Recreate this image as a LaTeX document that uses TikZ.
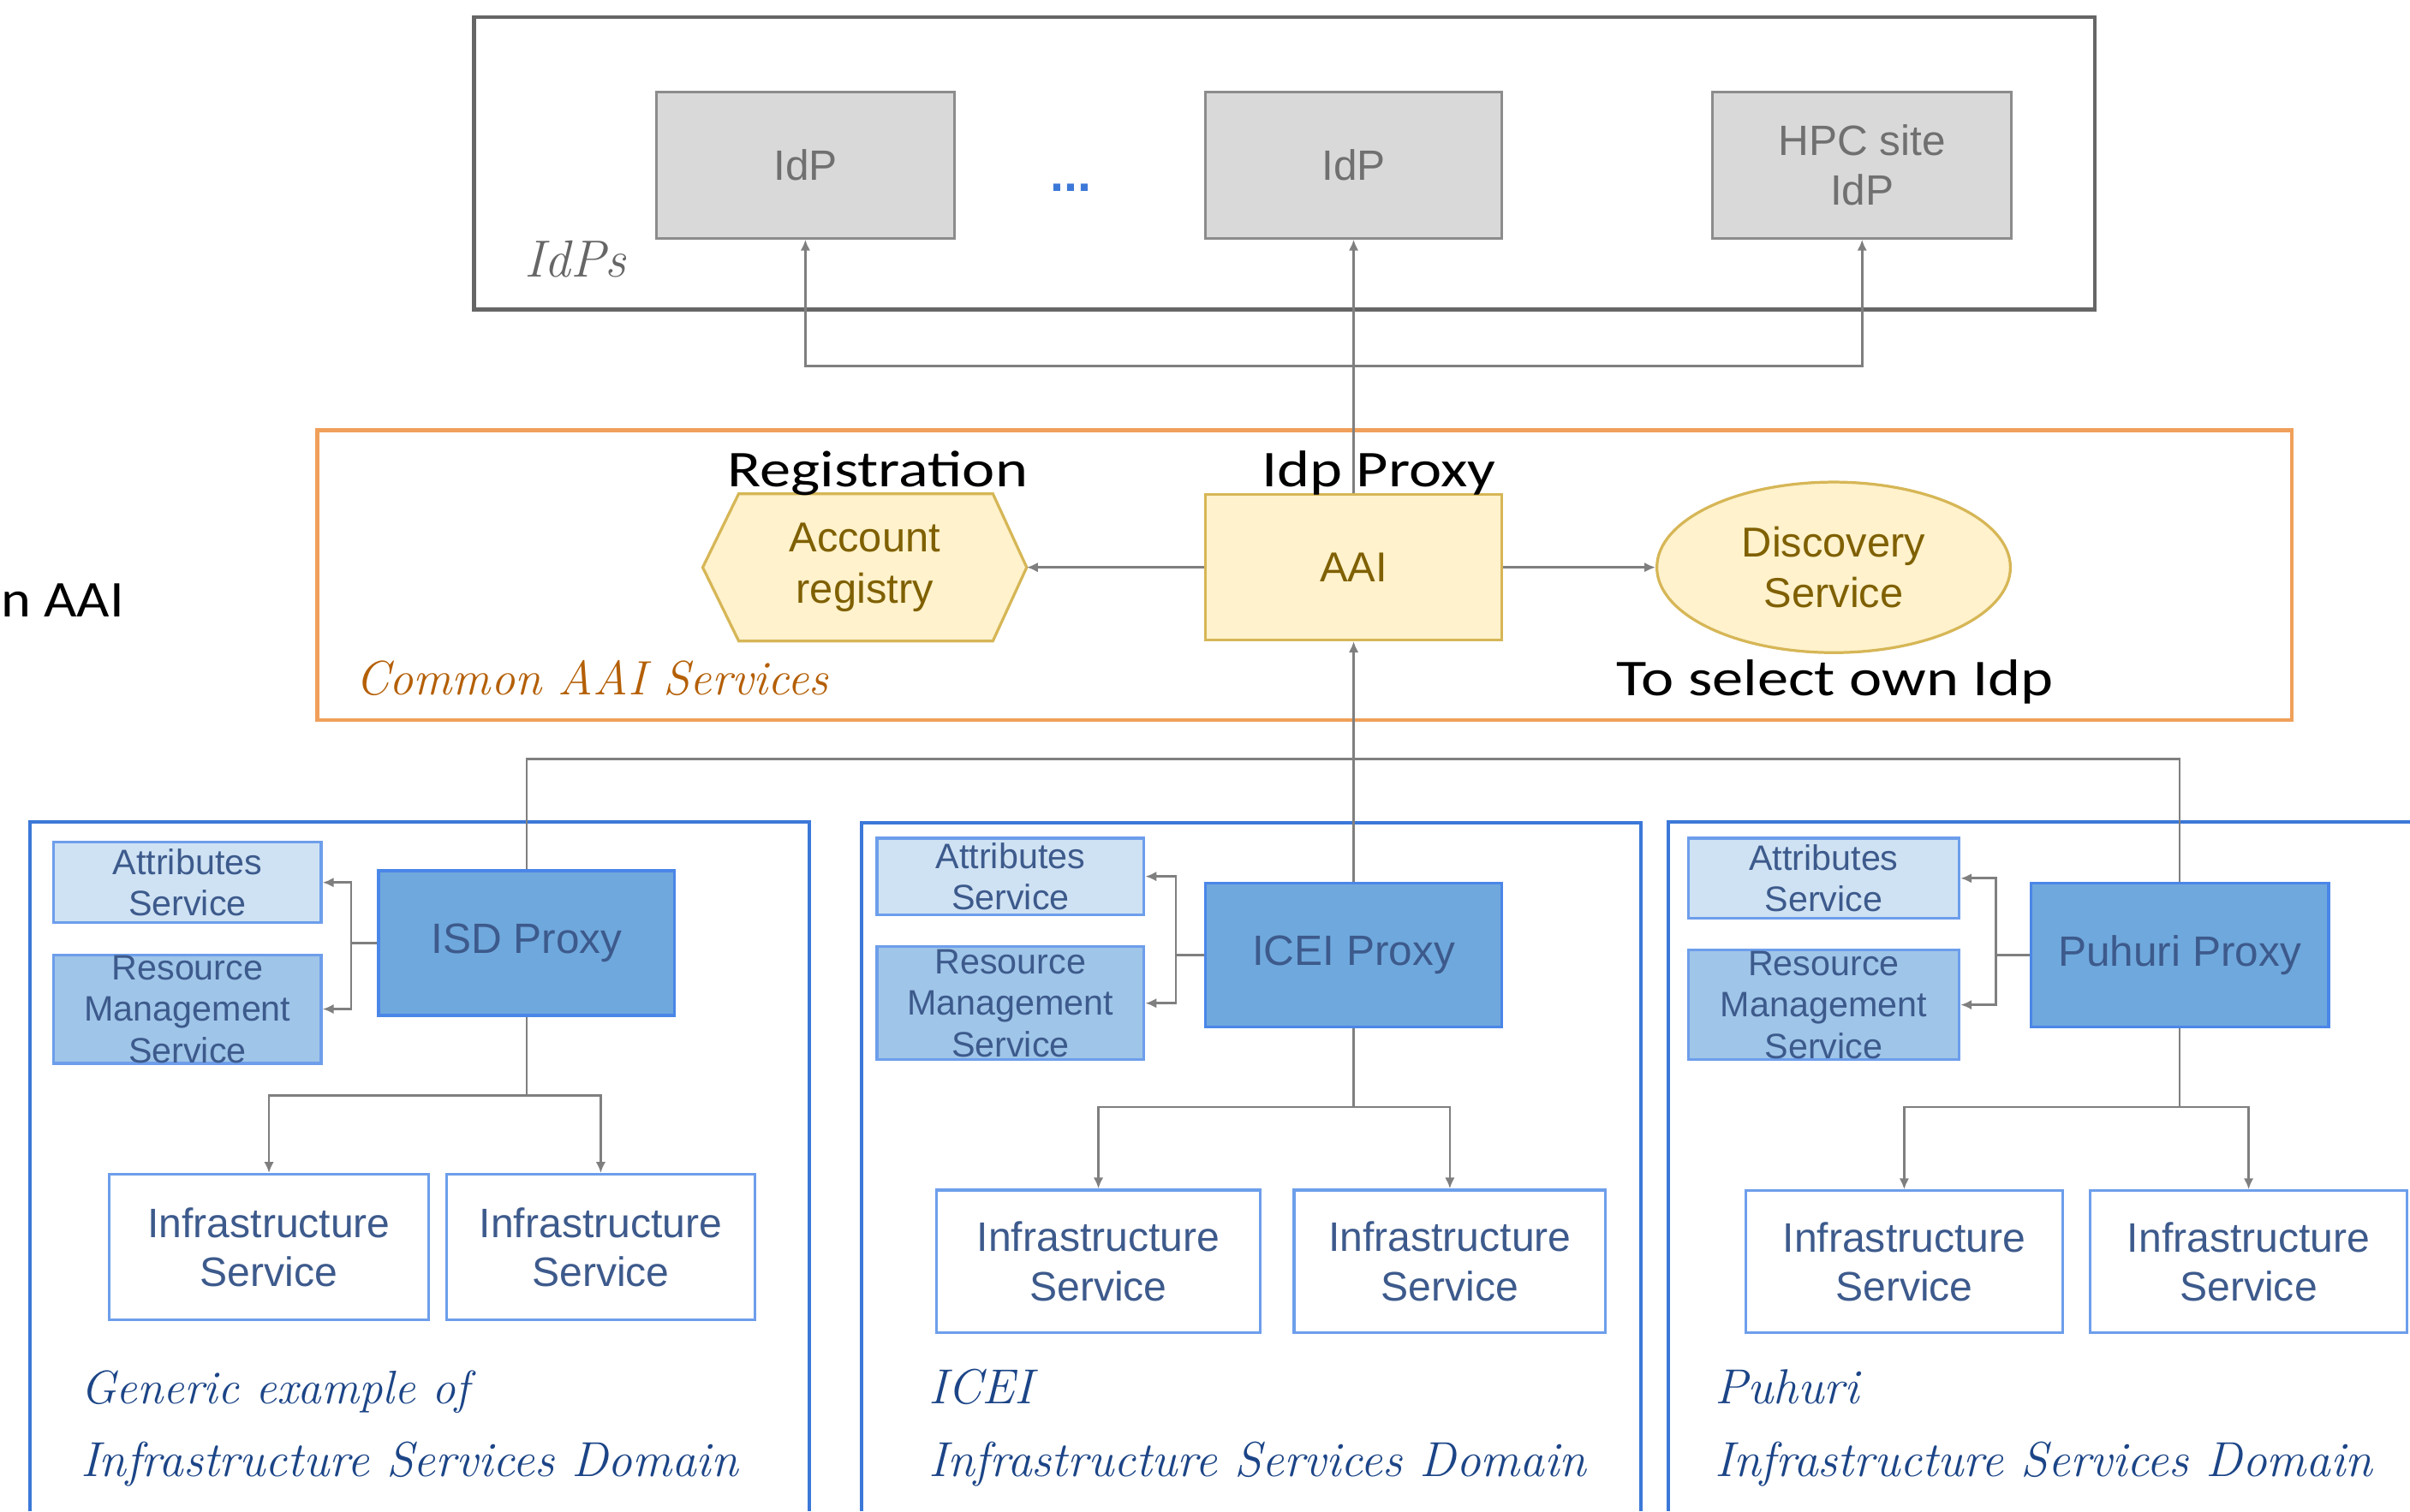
\documentclass[tikz,border=0pt]{standalone}
\usepackage{fontspec}
\setsansfont{Liberation Sans}
\newfontfamily\calib{Carlito}
\usetikzlibrary{shapes.geometric,arrows.meta}
\definecolor{cframeg}{HTML}{666666}
\definecolor{cidpfill}{HTML}{D9D9D9}
\definecolor{cidpdraw}{HTML}{8C8C8C}
\definecolor{cidptext}{HTML}{707070}
\definecolor{corng}{HTML}{F0A05A}
\definecolor{corngtext}{HTML}{B45F06}
\definecolor{cyfill}{HTML}{FFF2CC}
\definecolor{cydraw}{HTML}{D6B656}
\definecolor{cytext}{HTML}{7F6000}
\definecolor{cdframe}{HTML}{3C78D8}
\definecolor{cattfill}{HTML}{CFE2F3}
\definecolor{crmsfill}{HTML}{9FC5E8}
\definecolor{cpxfill}{HTML}{6FA8DC}
\definecolor{cbdraw}{HTML}{6D9EEB}
\definecolor{cpxdraw}{HTML}{4A86E8}
\definecolor{cbtext}{HTML}{3D5A8C}
\definecolor{cdlabel}{HTML}{1C4587}
\definecolor{clineg}{HTML}{7F7F7F}
\definecolor{cdots}{HTML}{3C78D8}
\begin{document}
\begin{tikzpicture}[x=0.5pt,y=-0.5pt,
  conn/.style={draw=clineg,line width=0.75pt},
  arr/.style={conn,-{Latex[length=3.6pt,width=3.2pt]}},
  arrboth/.style={conn,{Latex[length=3.6pt,width=3.2pt]}-{Latex[length=3.6pt,width=3.2pt]}},
  idpbox/.style={draw=cidpdraw,fill=cidpfill,line width=0.9pt,text=cidptext,inner sep=0pt,align=center,
    font=\sffamily\fontsize{13.8pt}{16pt}\selectfont},
  ybox/.style={draw=cydraw,fill=cyfill,line width=0.9pt,text=cytext,inner sep=0pt,align=center,
    font=\sffamily\fontsize{13.6pt}{16.5pt}\selectfont},
  ytxt/.style={text=cytext,inner sep=0pt,align=center,font=\sffamily\fontsize{13.6pt}{16.5pt}\selectfont},
  attbox/.style={draw=cbdraw,fill=cattfill,line width=0.9pt,text=cbtext,inner sep=0pt,align=center,
    font=\sffamily\fontsize{11.5pt}{13.5pt}\selectfont},
  rmsbox/.style={draw=cbdraw,fill=crmsfill,line width=0.9pt,inner sep=0pt},
  rmstxt/.style={text=cbtext,inner sep=0pt,align=center,font=\sffamily\fontsize{11.5pt}{13.5pt}\selectfont},
  pxbox/.style={draw=cpxdraw,fill=cpxfill,line width=0.9pt,text=cbtext,inner sep=0pt,align=center,
    font=\sffamily\fontsize{13.8pt}{16pt}\selectfont},
  infbox/.style={draw=cbdraw,fill=white,line width=0.9pt,text=cbtext,inner sep=0pt,align=center,
    font=\sffamily\fontsize{13.4pt}{16pt}\selectfont},
  callab/.style={inner sep=0pt,text=black,font=\calib\fontsize{16.8pt}{20pt}\selectfont},
  scrlab/.style={inner sep=0pt,anchor=base west,font=\rmfamily\itshape\fontsize{16pt}{19pt}\selectfont},
  frameline/.style={line width=1.3pt}
]
\useasboundingbox (0,0) rectangle (1568,983.5);

% ---------- IdPs ----------
\draw[frameline,draw=cframeg] (308.5,11.2) rectangle (1363,201.5);
\node[idpbox,minimum width=96.9pt,minimum height=47.6pt] (idp1) at (524,107.4) {IdP};
\node[idpbox,minimum width=96.5pt,minimum height=47.6pt] (idp2) at (880.7,107.4) {IdP};
\node[idpbox,minimum width=97.2pt,minimum height=47.6pt] (hpc) at (1211.5,107.4) {HPC site\\IdP};
\node[anchor=base,inner sep=0pt,text=cdots,font=\sffamily\bfseries\fontsize{16pt}{18pt}\selectfont] (dots) at (697,124.5) {...};
\node[scrlab,text=cframeg,font=\rmfamily\itshape\fontsize{17pt}{19pt}\selectfont] (idpslbl) at (341,180) {IdPs};

% ---------- Common AAI ----------
\draw[frameline,draw=corng] (206.5,279.9) rectangle (1491,468.6);
\node[inner sep=0pt,minimum width=105pt,minimum height=47.5pt] (reg) at (562.6,369.25) {};
\filldraw[draw=cydraw,fill=cyfill,line width=0.9pt]
  (reg.west) -- ([xshift=11.7pt]reg.north west) -- ([xshift=-11pt]reg.north east) -- (reg.east)
  -- ([xshift=-11pt]reg.south east) -- ([xshift=11.7pt]reg.south west) -- cycle;
\node[ytxt] (regtxt) at (reg.center) {Account\\registry};
\node[ybox,minimum width=96.5pt,minimum height=47.25pt] (aai) at (880.7,369.25) {AAI};
\node[ybox,ellipse,minimum width=115pt,minimum height=55.5pt] (disc) at (1193,369.25) {Discovery\\Service};
\node[callab,anchor=base] (reglbl) at (571,316.6) {\scalebox{1.2}[1]{Registration}};
\node[callab,anchor=base] (proxylbl) at (897,316.6) {\scalebox{1.2}[1]{Idp Proxy}};
\node[callab,anchor=base] (sellbl) at (1194,452.6) {\scalebox{1.2}[1]{To select own Idp}};
\node[callab,anchor=base west] (leftlbl) at (0.5,401.4) {\scalebox{1.1}[1]{n AAI}};
\node[scrlab,text=corngtext,font=\rmfamily\itshape\fontsize{15.7pt}{19pt}\selectfont] (aailbl) at (231,452) {Common AAI Services};

\coordinate (bus1) at (0,238.3);
\draw[arrboth] (idp1.south) -- (idp1.south |- bus1) -- (hpc.south |- bus1) -- (hpc.south);
\draw[arr] (aai.north) -- (idp2.south);
\draw[arr] (aai.west) -- (reg.east);
\draw[arr] (aai.east) -- (disc.west);

% ---------- Domain frames ----------
\draw[frameline,draw=cdframe,line width=1.2pt] (19.5,983.5) -- (19.5,534.8) -- (526.6,534.8) -- (526.6,983.5);
\draw[frameline,draw=cdframe,line width=1.2pt] (560.6,983.5) -- (560.6,535.3) -- (1067.7,535.3) -- (1067.7,983.5);
\draw[frameline,draw=cdframe,line width=1.2pt] (1085.4,983.5) -- (1085.4,535) -- (1568,535);

% ---------- Domain 1 ----------
\node[attbox,minimum width=87pt,minimum height=26.15pt] (att1) at (122,574.35) {Attributes\\Service};
\node[rmsbox,minimum width=87pt,minimum height=35.3pt] (rms1) at (122,656.7) {};
\node[rmstxt] (rms1t) at (rms1.center) {Resource\\Management\\Service};
\node[pxbox,minimum width=96.3pt,minimum height=47.05pt] (isd) at (342.6,613.75) {ISD Proxy};
\node[infbox,minimum width=104pt,minimum height=47.35pt] (inf11) at (175,811.65) {Infrastructure\\Service};
\node[infbox,minimum width=100.15pt,minimum height=47.35pt] (inf12) at (390.85,811.65) {Infrastructure\\Service};
\node[scrlab,text=cdlabel,font=\rmfamily\itshape\fontsize{15.3pt}{19pt}\selectfont] (d1a) at (52,913.4) {Generic example of};
\node[scrlab,text=cdlabel] (d1b) at (52,961) {Infrastructure Services Domain};

% ---------- Domain 2 ----------
\node[attbox,minimum width=86.85pt,minimum height=24.9pt] (att2) at (657.45,570.4) {Attributes\\Service};
\node[rmsbox,minimum width=86.85pt,minimum height=36.7pt] (rms2) at (657.45,652.9) {};
\node[rmstxt] (rms2t) at (rms2.center) {Resource\\Management\\Service};
\node[pxbox,minimum width=96.3pt,minimum height=46.85pt] (icei) at (880.7,621.55) {ICEI Proxy};
\node[infbox,minimum width=105.35pt,minimum height=46.4pt] (inf21) at (714.65,820.9) {Infrastructure\\Service};
\node[infbox,minimum width=101.3pt,minimum height=46.4pt] (inf22) at (943.3,820.9) {Infrastructure\\Service};
\node[scrlab,text=cdlabel] (d2a) at (604,913.5) {ICEI};
\node[scrlab,text=cdlabel] (d2b) at (604,961) {Infrastructure Services Domain};

% ---------- Domain 3 ----------
\node[attbox,minimum width=88.15pt,minimum height=26.1pt] (att3) at (1186.55,571.6) {Attributes\\Service};
\node[rmsbox,minimum width=88.15pt,minimum height=35.65pt] (rms3) at (1186.55,653.95) {};
\node[rmstxt] (rms3t) at (rms3.center) {Resource\\Management\\Service};
\node[pxbox,minimum width=96.95pt,minimum height=46.85pt] (puh) at (1418.15,621.55) {Puhuri Proxy};
\node[infbox,minimum width=103.1pt,minimum height=46.15pt] (inf31) at (1238.9,821.15) {Infrastructure\\Service};
\node[infbox,minimum width=103pt,minimum height=46.15pt] (inf32) at (1463,821.15) {Infrastructure\\Service};
\node[scrlab,text=cdlabel] (d3a) at (1115.5,913.5) {Puhuri};
\node[scrlab,text=cdlabel] (d3b) at (1115.5,961) {Infrastructure Services Domain};

% ---------- connectors between AAI and domains ----------
\coordinate (bus2) at (0,494);
\draw[arr] (icei.north) -- (aai.south);
\draw[conn] (isd.north) -- (isd.north |- bus2) -- (puh.north |- bus2) -- (puh.north);

% ---------- inside domains ----------
\coordinate (j1) at (228.5,613.75);
\draw[conn] (isd.west) -- (j1);
\draw[arr] (j1) |- (att1.east);
\draw[arr] (j1) |- (rms1.east);
\coordinate (b1) at (342.6,713);
\draw[conn] (isd.south) -- (b1);
\draw[arr] (b1) -| (inf11.north);
\draw[arr] (b1) -| (inf12.north);

\coordinate (j2) at (765,621.55);
\draw[conn] (icei.west) -- (j2);
\draw[arr] (j2) |- (att2.east);
\draw[arr] (j2) |- (rms2.east);
\coordinate (b2) at (880.7,720.4);
\draw[conn] (icei.south) -- (b2);
\draw[arr] (b2) -| (inf21.north);
\draw[arr] (b2) -| (inf22.north);

\coordinate (j3) at (1298.4,621.55);
\draw[conn] (puh.west) -- (j3);
\draw[arr] (j3) |- (att3.east);
\draw[arr] (j3) |- (rms3.east);
\coordinate (b3) at (1418.15,720.4);
\draw[conn] (puh.south) -- (b3);
\draw[arr] (b3) -| (inf31.north);
\draw[arr] (b3) -| (inf32.north);
\end{tikzpicture}
\end{document}
